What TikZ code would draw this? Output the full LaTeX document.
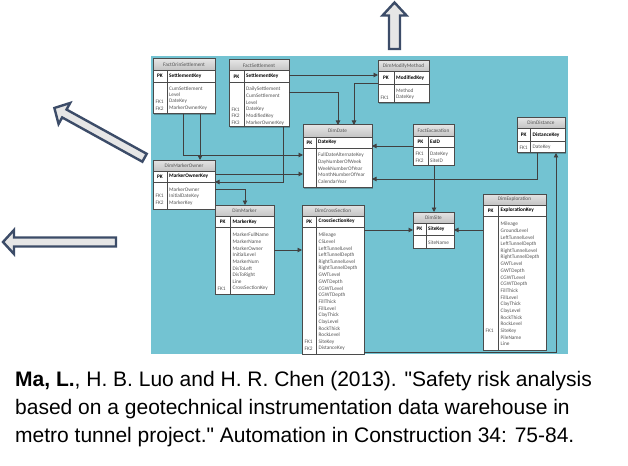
\documentclass[tikz,border=0pt]{standalone}
\usepackage{fontspec}
\setmainfont{Liberation Sans}[Ligatures=TeXOff]
\newfontfamily\tabfont{Carlito}
\usetikzlibrary{arrows.meta,fit}
\definecolor{tealbg}{RGB}{115,195,210}
\definecolor{bord}{RGB}{75,75,75}
\definecolor{hdrtop}{RGB}{228,228,228}
\definecolor{hdrbot}{RGB}{196,196,196}
\definecolor{txtgray}{RGB}{85,85,85}
\definecolor{arrline}{RGB}{60,76,104}
\definecolor{arrfill}{RGB}{230,230,230}
\definecolor{connc}{RGB}{64,64,64}
\tikzset{
 tabbox/.style={draw=bord, line width=1pt, fill=white, inner sep=0pt, outer sep=0pt},
 tabline/.style={draw=bord, line width=0.8pt},
 hdrtxt/.style={font=\tabfont\fontsize{5.3}{6}\selectfont, text=txtgray, inner sep=0pt},
 pktxt/.style={font=\tabfont\bfseries\fontsize{5.3}{6}\selectfont, text=black, inner sep=0pt},
 rowtxt/.style={font=\tabfont\fontsize{5.3}{6}\selectfont, text=txtgray, inner sep=0pt, anchor=west},
 conn/.style={draw=connc, line width=0.9pt, -{Triangle[length=4.5pt,width=4.5pt]}},
 bigarrow/.style={draw=arrline, line width=2.4pt, fill=arrfill, line join=miter},
 cite/.style={font=\fontsize{21}{24}\selectfont, anchor=base west, inner sep=0pt}
}
% name, L, T, R, HB, PB, B, D, title
\newcommand\ertab[9]{%
 \fill[black, opacity=0.25] ({#2+1.3},{#3+1.3}) rectangle ({#4+1.3},{#7+1.3});
 \node[tabbox, fit={(#2,#3)(#4,#7)}] (#1) {};
 \shade[top color=hdrtop, bottom color=hdrbot] (#2,#3) rectangle (#4,#5);
 \draw[tabline] (#2,#5) -- (#4,#5) (#2,#6) -- (#4,#6) (#8,#5) -- (#8,#7);
 \draw[draw=bord, line width=1pt] (#2,#3) rectangle (#4,#7);
 \node[hdrtxt] at ({(#2+#4)/2},{(#3+#5)/2}) {#9};
}
% L, D, HB, PB, key
\newcommand\erpk[5]{%
 \node[pktxt] at ({(#1+#2)/2},{(#3+#4)/2}) {PK};
 \node[pktxt, anchor=west] at ({#2+2},{(#3+#4)/2}) {#5};
}
% L, D, first y, list
\newcommand\errows[4]{%
 \foreach \fk/\nm [count=\i] in {#4} {
   \node[rowtxt] at ({#1+2.5},{#3+(\i-1)*6.67}) {\fk};
   \node[rowtxt] at ({#2+2},{#3+(\i-1)*6.67}) {\nm};
 }}
\begin{document}
\begin{tikzpicture}[x=1pt,y=-1pt]
\useasboundingbox (0,0) rectangle (628,465);
\fill[white] (0,0) rectangle (628,465);
\fill[tealbg] (151,56) rectangle (568,354);

% big arrows
\draw[bigarrow] (394.5,2.5) -- (406.5,15.5) -- (400,15.5) -- (400,49) -- (389,49) -- (389,15.5) -- (382.5,15.5) -- cycle;
\draw[bigarrow, shift={(53.5,107.5)}, rotate=-28.9] (1,0) -- (12.4,12) -- (12.4,4.5) -- (104,4.5) -- (104,-4.5) -- (12.4,-4.5) -- (12.4,-12) -- cycle;
\draw[bigarrow] (3,242) -- (14,230) -- (14,237.5) -- (116,237.5) -- (116,246.5) -- (14,246.5) -- (14,254) -- cycle;

% tables
\ertab{fos}{153}{59}{215}{70}{82}{114}{167}{FactOrinSettlement}
\erpk{153}{167}{70}{82}{SettlementKey}
\errows{153}{167}{88.3}{{}/CumSettlement,{}/Level,FK1/DateKey,FK2/MarkerOwnerKey}

\ertab{fs}{229}{60}{289}{70.5}{82.5}{127}{244}{FactSettlement}
\erpk{229}{244}{70.5}{82.5}{SettlementKey}
\errows{229}{244}{89.3}{{}/DailySettlement,{}/CumSettlement,{}/Level,FK1/DateKey,FK2/ModifiedKey,FK3/MarkerOwnerKey}

\ertab{dmm}{378}{61}{429}{71.5}{84}{103}{394}{DimModifyMethod}
\erpk{378}{394}{71.5}{84}{ModifiedKey}
\errows{378}{394}{90.7}{{}/Method,FK1/DateKey}

\ertab{dimdate}{303}{125}{372}{137}{148}{187.5}{316}{DimDate}
\erpk{303}{316}{137}{148}{DateKey}
\errows{303}{316}{155}{{}/FullDateAlternateKey,{}/DayNumberOfWeek,{}/WeekNumberOfYear,{}/MonthNumberOfYear,{}/CalendarYear}

\ertab{fe}{413}{125}{454}{136.5}{147.5}{165}{428}{FactExcavation}
\erpk{413}{428}{136.5}{147.5}{ExID}
\errows{413}{428}{154}{FK1/DateKey,FK2/SiteID}

\ertab{dd}{517}{118}{565}{128}{141.5}{153}{530.5}{DimDistance}
\erpk{517}{530.5}{128}{141.5}{DistanceKey}
\errows{517}{530.5}{147.7}{FK1/DateKey}

\ertab{dmo}{153}{160}{215}{171}{182}{209}{167}{DimMarkerOwner}
\erpk{153}{167}{171}{182}{MarkerOwnerKey}
\errows{153}{167}{189.3}{{}/MarkerOwner,FK1/InitialDateKey,FK2/MarkerKey}

\ertab{dm}{215}{205}{274}{216.5}{227}{294}{230.5}{DimMarker}
\erpk{215}{230.5}{216.5}{227}{MarkerKey}
\errows{215}{230.5}{235}{{}/MarkerFullName,{}/MarkerName,{}/MarkerOwner,{}/InitialLevel,{}/MarkerNum,{}/DisToLeft,{}/DisToRight,{}/Line,FK1/CrossSectionKey}

\ertab{dcs}{302}{205}{364}{216}{227}{354}{316.5}{DimCrossSection}
\erpk{302}{316.5}{216}{227}{CrossSectionKey}
\errows{302}{316.5}{235}{{}/Mileage,{}/CSLevel,{}/LeftTunnelLevel,{}/LeftTunnelDepth,{}/RightTunnelLevel,{}/RightTunnelDepth,{}/GWTLevel,{}/GWTDepth,{}/CGWTLevel,{}/CGWTDepth,{}/FillThick,{}/FillLevel,{}/ClayThick,{}/ClayLevel,{}/RockThick,{}/RockLevel,FK1/SiteKey,FK2/DistanceKey}

\ertab{ds}{413}{212}{454}{223}{235}{248}{426}{DimSite}
\erpk{413}{426}{223}{235}{SiteKey}
\errows{413}{426}{242.3}{{}/SiteName}

\ertab{dex}{483}{194}{546}{205}{216}{350}{498.5}{DimExploration}
\erpk{483}{498.5}{205}{216}{ExplorationKey}
\errows{483}{498.5}{224}{{}/Mileage,{}/GroundLevel,{}/LeftTunnelLevel,{}/LeftTunnelDepth,{}/RightTunnelLevel,{}/RightTunnelDepth,{}/GWTLevel,{}/GWTDepth,{}/CGWTLevel,{}/CGWTDepth,{}/FillThick,{}/FillLevel,{}/ClayThick,{}/ClayLevel,{}/RockThick,{}/RockLevel,FK1/SiteKey,{}/PileName,{}/Line}

% bend helpers
\coordinate (c1) at (183,155);
\coordinate (c2) at (200,0);
\coordinate (c3) at (0,75);
\coordinate (c4) at (338,92);
\coordinate (c5) at (354,83);
\coordinate (c6) at (283,182);
\coordinate (c7) at (0,174);
\coordinate (c8) at (245,189);
\coordinate (c9) at (0,250);
\coordinate (c10) at (0,146);
\coordinate (c11) at (537,179);
\coordinate (c12) at (434,0);
\coordinate (c13) at (0,230);
\coordinate (c14) at (556,352);

% connectors
\draw[conn] (fos.south -| c1) |- (dimdate.west |- c1);
\draw[conn] (fos.south -| c2) -- (dmo.north -| c2);
\draw[conn] (fs.east |- c3) -- (dmm.west |- c3);
\draw[conn] (fs.east |- c4) -| (dimdate.north -| c4);
\draw[conn] (dmm.west |- c5) -| (dimdate.north -| c5);
\draw[conn] (fs.south -| c6) |- (dmo.east |- c6);
\draw[conn] (dmo.east |- c7) -- (dimdate.west |- c7);
\draw[conn] (dmo.east |- c8) -| (dm.north -| c8);
\draw[conn] (dm.east |- c9) -- (dcs.west |- c9);
\draw[conn] (fe.west |- c10) -- (dimdate.east |- c10);
\draw[conn] (dd.south -| c11) |- (dimdate.east |- c11);
\draw[conn] (fe.south -| c12) -- (ds.north -| c12);
\draw[conn] (dcs.east |- c13) -- (ds.west |- c13);
\draw[conn] (dex.west |- c13) -- (ds.east |- c13);
\draw[conn] (dcs.east |- c14) -| (dd.south -| c14);

% citation
\node[cite] (l1) at (15,386) {\textbf{Ma, L.}, H. B. Luo and H. R. Chen (2013). "Safety risk analysis};
\node[cite] (l2) at (15,414) {based on a geotechnical instrumentation data warehouse in};
\node[cite] (l3) at (15,442) {metro tunnel project." Automation in Construction 34: 75-84.};
\end{tikzpicture}
\end{document}
